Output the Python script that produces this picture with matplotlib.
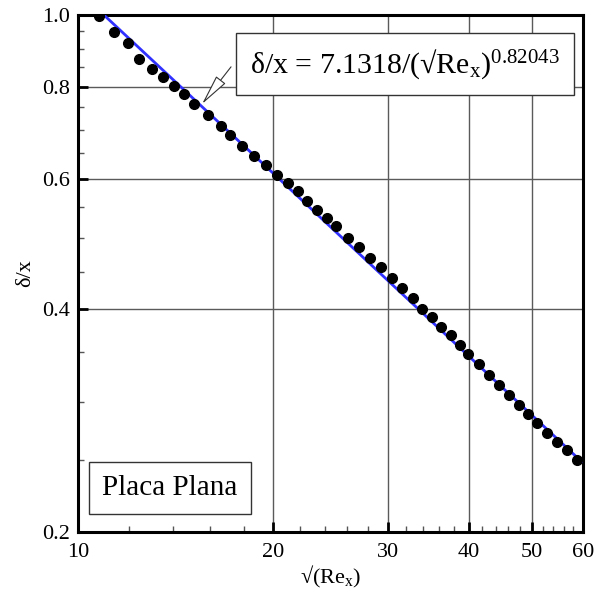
import matplotlib.pyplot as plt
import matplotlib.ticker as mticker

plt.rcParams['font.family'] = ['Liberation Serif', 'DejaVu Serif']
plt.rcParams['mathtext.fontset'] = 'custom'
plt.rcParams['mathtext.rm'] = 'Liberation Serif'
plt.rcParams['mathtext.it'] = 'Liberation Serif:italic'

# data points
sqrt_re = [10.79, 11.36, 11.93, 12.43, 12.99, 13.53, 14.07, 14.58, 15.11, 15.88,
           16.63, 17.17, 17.92, 18.70, 19.49, 20.24, 21.05, 21.83, 22.56, 23.38,
           24.17, 24.96, 26.04, 27.11, 28.22, 29.31, 30.44, 31.60, 32.79, 33.93,
           35.08, 36.29, 37.52, 38.74, 39.94, 41.49, 42.99, 44.54, 46.14, 47.76,
           49.36, 50.91, 52.80, 54.71, 56.62, 58.73]
delta_x = [0.997, 0.949, 0.918, 0.871, 0.845, 0.824, 0.802, 0.781, 0.757, 0.732,
           0.708, 0.688, 0.666, 0.644, 0.626, 0.608, 0.592, 0.578, 0.561, 0.545,
           0.531, 0.518, 0.500, 0.485, 0.469, 0.456, 0.441, 0.427, 0.414, 0.401,
           0.390, 0.379, 0.369, 0.358, 0.348, 0.337, 0.326, 0.316, 0.306, 0.297,
           0.289, 0.281, 0.272, 0.265, 0.258, 0.250]

# fitted power law shown in the box
fit_a = 7.1318
fit_b = 0.82043
fit_x = [10.75, 59.7]
fit_y = [fit_a / x ** fit_b for x in fit_x]

x_ticks = [10, 20, 30, 40, 50, 60]
x_minor = [12, 14, 16, 18, 22, 24, 26, 28, 32, 34, 36, 38,
           42, 44, 46, 48, 52, 54, 56, 58]
y_ticks = [0.2, 0.4, 0.6, 0.8, 1.0]
y_minor = [0.25, 0.3, 0.35, 0.45, 0.5, 0.55, 0.65, 0.7, 0.75, 0.85, 0.9, 0.95]
y_labels = ['0.2', '0.4', '0.6', '0.8', '1.0']

fig = plt.figure(figsize=(5.96, 5.96), dpi=100)
ax = fig.add_axes([0.1309, 0.1074, 0.8473, 0.8674])

ax.plot(fit_x, fit_y, color='#3030ff', lw=2, zorder=3)
ax.plot(sqrt_re, delta_x, 'o', color='black', ms=7, zorder=4)

ax.set_xscale('log')
ax.set_yscale('log')
ax.set_xlim(10, 60)
ax.set_ylim(0.2, 1.0)

ax.xaxis.set_major_locator(mticker.FixedLocator(x_ticks))
ax.xaxis.set_major_formatter(mticker.FixedFormatter([str(t) for t in x_ticks]))
ax.xaxis.set_minor_locator(mticker.FixedLocator(x_minor))
ax.xaxis.set_minor_formatter(mticker.NullFormatter())
ax.yaxis.set_major_locator(mticker.FixedLocator(y_ticks))
ax.yaxis.set_major_formatter(mticker.FixedFormatter(y_labels))
ax.yaxis.set_minor_locator(mticker.FixedLocator(y_minor))
ax.yaxis.set_minor_formatter(mticker.NullFormatter())

ax.tick_params(which='major', direction='in', length=7, width=2, labelsize=16)
ax.tick_params(axis='x', which='major', pad=8)
ax.tick_params(axis='y', which='major', pad=6)
ax.tick_params(which='minor', direction='in', length=4.5, width=1, color='#555555')

for s in ax.spines.values():
    s.set_linewidth(2.2)

ax.grid(True, which='major', color='#5a5a5a', lw=1)

ax.set_xlabel('√(Re$_\\mathrm{x}$)', fontsize=16, labelpad=1)
ax.set_ylabel('δ/x', fontsize=16, labelpad=5)

ax.text(0.6475, 0.905, 'δ/x = 7.1318/(√Re$_\\mathrm{x}$)$^{0.82043}$',
        transform=ax.transAxes, fontsize=21.5, ha='center', va='center', zorder=5,
        bbox=dict(boxstyle='square,pad=0.48', fc='white', ec='#333333', lw=1))

ax.annotate('', xy=(15.53, 0.758), xytext=(17.21, 0.851),
            arrowprops=dict(arrowstyle='-|>,head_length=1.3,head_width=0.25',
                            fc='white', ec='#333333', lw=0.8, mutation_scale=15,
                            shrinkA=0, shrinkB=0), zorder=5)

ax.text(0.182, 0.085, 'Placa Plana', transform=ax.transAxes, fontsize=21,
        ha='center', va='center', zorder=5,
        bbox=dict(boxstyle='square,pad=0.45', fc='white', ec='#333333', lw=1))

plt.savefig('out.png', dpi=100)
